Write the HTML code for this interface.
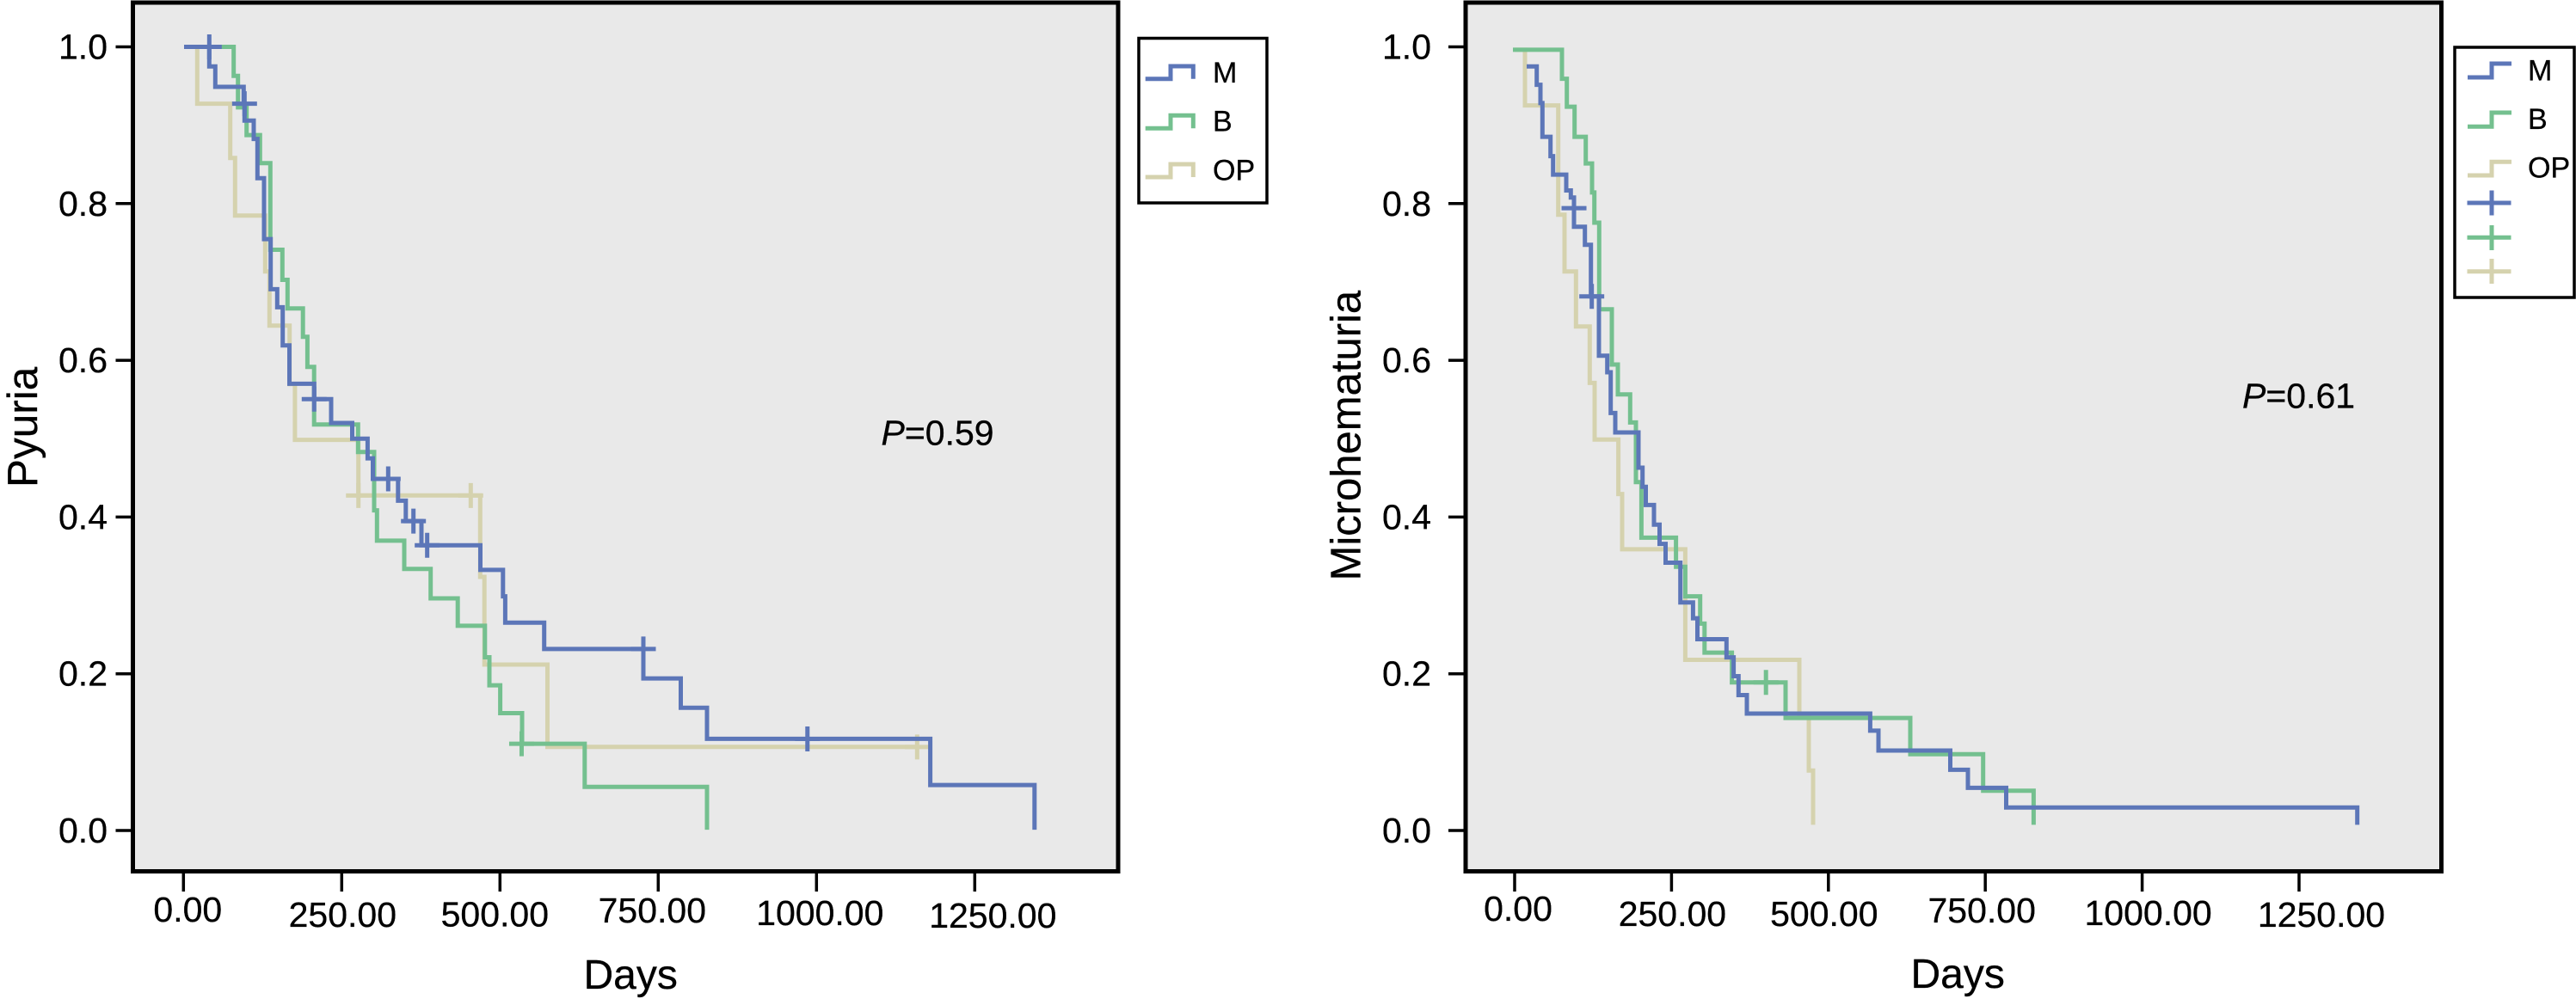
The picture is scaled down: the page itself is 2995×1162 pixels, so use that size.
<!DOCTYPE html>
<html lang="en">
<head>
<meta charset="utf-8">
<title>Kaplan-Meier curves: Pyuria and Microhematuria</title>
<style>
html,body{margin:0;padding:0;background:#fff;}
svg{display:block;}
text{font-family:"Liberation Sans",Arial,sans-serif;fill:#000;stroke:#000;stroke-width:0.3px;}
</style>
</head>
<body>
<svg id="figure" xmlns="http://www.w3.org/2000/svg" width="2995" height="1162" viewBox="0 0 2995 1162">
  <rect x="0" y="0" width="2995" height="1162" fill="#ffffff"/>

  <g id="pyuria-chart">
    <rect x="154.5" y="3" width="1145.5" height="1010.5" fill="#e9e9e9" stroke="#000" stroke-width="5"/>
    <text transform="translate(43 567) rotate(-90)" font-size="49.5">Pyuria</text>
    <text x="678.5" y="1150" font-size="48">Days</text>
    <text x="1024.5" y="517.5" font-size="41"><tspan font-style="italic">P</tspan>=0.59</text>
  </g>

  <g>
    <rect x="1324" y="44.5" width="149" height="191.5" fill="#ffffff" stroke="#000" stroke-width="3.5"/>
    <path d="M1331.7 91.7H1361V77H1387.3V91.7" fill="none" stroke="#5c76b8" stroke-width="5"/>
    <path d="M1331.7 149.3H1361V134.3H1387.3V149.3" fill="none" stroke="#74c08f" stroke-width="5"/>
    <path d="M1331.7 206H1361V191H1387.3V206" fill="none" stroke="#d5d2ae" stroke-width="5"/>
    <text x="1410" y="96" font-size="34">M</text>
    <text x="1410" y="152.7" font-size="34">B</text>
    <text x="1410" y="209.3" font-size="34">OP</text>
  </g>

  <g id="microhematuria-chart">
    <rect x="1704" y="3" width="1134.5" height="1010.5" fill="#e9e9e9" stroke="#000" stroke-width="5"/>
    <text transform="translate(1581.5 675.5) rotate(-90)" font-size="49">Microhematuria</text>
    <text x="2221.5" y="1149" font-size="48">Days</text>
    <text x="2607" y="474.3" font-size="41"><tspan font-style="italic">P</tspan>=0.61</text>
  </g>

  <g>
    <rect x="2854" y="55" width="139" height="291" fill="#ffffff" stroke="#000" stroke-width="3.5"/>
    <path d="M2869 90H2897V74H2920" fill="none" stroke="#5c76b8" stroke-width="5"/>
    <path d="M2869 147.3H2897V131H2920" fill="none" stroke="#74c08f" stroke-width="5"/>
    <path d="M2869 204H2897V188.3H2920" fill="none" stroke="#d5d2ae" stroke-width="5"/>
    <path d="M2868.5 236H2919.5M2897 221.5V250.5" fill="none" stroke="#5c76b8" stroke-width="5"/>
    <path d="M2868.5 276.3H2919.5M2897 262V291" fill="none" stroke="#74c08f" stroke-width="5"/>
    <path d="M2868.5 315.7H2919.5M2897 301V330" fill="none" stroke="#d5d2ae" stroke-width="5"/>
    <text x="2939" y="93.3" font-size="34">M</text>
    <text x="2939" y="150" font-size="34">B</text>
    <text x="2939" y="206.7" font-size="34">OP</text>
  </g>
</svg>

<script>
// ---- axis data ----
const xTickValues = [0, 250, 500, 750, 1000, 1250];
const xTickLabels = ["0.00", "250.00", "500.00", "750.00", "1000.00", "1250.00"];
const yTickValues = [0, 0.2, 0.4, 0.6, 0.8, 1.0];
const yTickLabels = ["0.0", "0.2", "0.4", "0.6", "0.8", "1.0"];

// ---- Pyuria chart: survival steps (days, proportion after the drop) ----
const pyuriaMDays = [1, 40.8, 50.3, 95.1, 96.5, 111, 116.8, 127.3, 137.8, 148.1, 156.8, 167.4, 206.5, 233.3, 266.6, 290.9, 299.2, 339, 351.2, 375.9, 469, 504.8, 508.3, 569.8, 726.5, 785.6, 827, 1179.8, 1344.4];
const pyuriaMSurv = [1.0, 0.975, 0.949, 0.9275, 0.906, 0.8825, 0.8325, 0.7547, 0.6907, 0.6677, 0.619, 0.57, 0.5504, 0.52, 0.5, 0.4749, 0.4487, 0.4208, 0.3948, 0.364, 0.3325, 0.2989, 0.2653, 0.2316, 0.1941, 0.1566, 0.1169, 0.058, 0.001];
const pyuriaMCensorDays = [40.8, 96.5, 206.5, 323.4, 363.3, 385, 726.5, 985.7];
const pyuriaMCensorSurv = [1.0, 0.9275, 0.5504, 0.4487, 0.3948, 0.364, 0.2316, 0.1169];

const pyuriaBDays = [3.7, 79.3, 86.1, 99.7, 120.9, 137.2, 156.3, 164.4, 188.7, 195.8, 206.4, 275.8, 301.2, 305.7, 348.8, 390.5, 433.3, 476.2, 483.3, 500.4, 534.9, 633.8, 827];
const pyuriaBSurv = [1.0, 0.963, 0.9228, 0.8874, 0.8516, 0.7411, 0.7027, 0.6662, 0.63, 0.5915, 0.518, 0.4831, 0.4086, 0.3698, 0.3337, 0.2962, 0.2612, 0.2211, 0.1853, 0.1498, 0.1107, 0.0557, 0.001];
const pyuriaBCensorDays = [534.2];
const pyuriaBCensorSurv = [0.1107];

const pyuriaOPDays = [3.7, 21.7, 73.9, 81.5, 129.1, 135.9, 167.7, 176.1, 276.4, 468.8, 475.4, 575, 1159];
const pyuriaOPSurv = [1.0, 0.9275, 0.8581, 0.7847, 0.7134, 0.6443, 0.5697, 0.4985, 0.4275, 0.3236, 0.2117, 0.1066, 0.1066];
const pyuriaOPCensorDays = [276.4, 453.8, 1159];
const pyuriaOPCensorSurv = [0.4275, 0.4275, 0.1066];

// ---- Microhematuria chart ----
const microMDays = [19.2, 35.2, 41.1, 44.3, 57.2, 61.3, 82.2, 89.5, 94.6, 112, 121.6, 134.3, 147.6, 153.1, 160.4, 197.4, 203.8, 209, 222, 230.9, 240.5, 264.1, 284.3, 291.3, 337.6, 349, 356.8, 370, 566.6, 579.8, 694.2, 722.3, 783.3, 1342.8];
const microMSurv = [0.9751, 0.9516, 0.9283, 0.8852, 0.8606, 0.837, 0.8168, 0.8077, 0.7704, 0.7474, 0.6816, 0.6059, 0.5848, 0.5328, 0.508, 0.463, 0.4385, 0.4154, 0.3904, 0.3658, 0.3417, 0.2909, 0.2709, 0.2441, 0.221, 0.1969, 0.1728, 0.1492, 0.1274, 0.102, 0.0774, 0.0544, 0.0294, 0.0072];
const microMCensorDays = [94.6, 122.9];
const microMCensorSurv = [0.7942, 0.6816];

const microBDays = [-2.7, 75.4, 83.2, 95.5, 113.4, 123.4, 127.1, 134.7, 154.9, 164.5, 184.1, 193.3, 202, 257.1, 271.9, 295.6, 302.6, 346.2, 431.7, 630.5, 746.6, 827];
const microBSurv = [0.9963, 0.9593, 0.9236, 0.8852, 0.8512, 0.8142, 0.7756, 0.6651, 0.5946, 0.5566, 0.5207, 0.4445, 0.3737, 0.3366, 0.2989, 0.264, 0.227, 0.189, 0.1436, 0.0974, 0.0507, 0.0072];
const microBCensorDays = [400.5];
const microBCensorSurv = [0.189];

const microOPDays = [0, 16.4, 69.5, 79.5, 97.7, 119.7, 127.5, 165.3, 171.3, 271.9, 453.7, 468.7, 475.6];
const microOPSurv = [0.9963, 0.9253, 0.7857, 0.7134, 0.6432, 0.5712, 0.499, 0.4294, 0.3589, 0.2178, 0.1443, 0.0765, 0.0072];
const microOPCensorDays = [];
const microOPCensorSurv = [];

// ---- drawing ----
const SVG_NS = "http://www.w3.org/2000/svg";
const Y_AT_ZERO = 966;
const Y_PER_UNIT = 911.5;
const PLOT_BOTTOM = 1013.5;

function yScale(v) {
  return Y_AT_ZERO - v * Y_PER_UNIT;
}

function stepPath(xScale, days, surv) {
  let d = "M" + xScale(days[0]).toFixed(1) + " " + yScale(surv[0]).toFixed(1);
  for (let i = 1; i < days.length; i++) {
    d += "H" + xScale(days[i]).toFixed(1) + "V" + yScale(surv[i]).toFixed(1);
  }
  return d;
}

function drawAxes(group, prefix, xScale, frameLeft, labelRight, nudgeX, baseY) {
  xTickValues.forEach(function (t, i) {
    const x = xScale(t);
    const tick = document.createElementNS(SVG_NS, "line");
    
    
    tick.setAttribute("x1", x);
    tick.setAttribute("x2", x);
    tick.setAttribute("y1", PLOT_BOTTOM);
    tick.setAttribute("y2", 1037);
    tick.setAttribute("stroke", "#000");
    tick.setAttribute("stroke-width", 3.5);
    group.appendChild(tick);

    const label = document.createElementNS(SVG_NS, "text");
    
    
    label.setAttribute("x", x + nudgeX[i]);
    label.setAttribute("y", baseY[i]);
    label.setAttribute("font-size", 41);
    label.setAttribute("text-anchor", "middle");
    label.textContent = xTickLabels[i];
    group.appendChild(label);
  });

  yTickValues.forEach(function (v, i) {
    const y = yScale(v);
    const tick = document.createElementNS(SVG_NS, "line");
    
    
    tick.setAttribute("x1", frameLeft - 20);
    tick.setAttribute("x2", frameLeft);
    tick.setAttribute("y1", y);
    tick.setAttribute("y2", y);
    tick.setAttribute("stroke", "#000");
    tick.setAttribute("stroke-width", 3.5);
    group.appendChild(tick);

    const label = document.createElementNS(SVG_NS, "text");
    
    
    label.setAttribute("x", labelRight);
    label.setAttribute("y", y + 14);
    label.setAttribute("font-size", 41);
    label.setAttribute("text-anchor", "end");
    label.textContent = yTickLabels[i];
    group.appendChild(label);
  });
}

function drawSeries(group, prefix, xScale, color, days, surv, cDays, cSurv) {
  const line = document.createElementNS(SVG_NS, "path");
  
  
  line.setAttribute("d", stepPath(xScale, days, surv));
  line.setAttribute("fill", "none");
  line.setAttribute("stroke", color);
  line.setAttribute("stroke-width", 5);
  line.setAttribute("stroke-linejoin", "miter");
  group.appendChild(line);

  cDays.forEach(function (d, i) {
    const x = xScale(d);
    const y = yScale(cSurv[i]);
    const mark = document.createElementNS(SVG_NS, "path");
    
    
    mark.setAttribute("d", "M" + (x - 14.5) + " " + y + "H" + (x + 14.5) + "M" + x + " " + (y - 14.5) + "V" + (y + 14.5));
    mark.setAttribute("fill", "none");
    mark.setAttribute("stroke", color);
    mark.setAttribute("stroke-width", 5);
    group.appendChild(mark);
  });
}

const COLOR_M = "#5c76b8";
const COLOR_B = "#74c08f";
const COLOR_OP = "#d5d2ae";

const pyuriaGroup = document.getElementById("pyuria-chart");
function pyuriaX(d) { return 213.3 + 0.736 * d; }
drawAxes(pyuriaGroup, "pyuria", pyuriaX, 154.5, 125, [5, 1, -6, -7, 4, 21], [1072, 1078, 1077.5, 1073, 1076, 1079]);
drawSeries(pyuriaGroup, "pyuria-op", pyuriaX, COLOR_OP, pyuriaOPDays, pyuriaOPSurv, pyuriaOPCensorDays, pyuriaOPCensorSurv);
drawSeries(pyuriaGroup, "pyuria-b", pyuriaX, COLOR_B, pyuriaBDays, pyuriaBSurv, pyuriaBCensorDays, pyuriaBCensorSurv);
drawSeries(pyuriaGroup, "pyuria-m", pyuriaX, COLOR_M, pyuriaMDays, pyuriaMSurv, pyuriaMCensorDays, pyuriaMCensorSurv);

const microGroup = document.getElementById("microhematuria-chart");
function microX(d) { return 1761 + 0.7296 * d; }
drawAxes(microGroup, "microhematuria", microX, 1704, 1664, [4, 1, -5, -4, 7, 26], [1071, 1077, 1077, 1073, 1076, 1078]);
drawSeries(microGroup, "microhematuria-op", microX, COLOR_OP, microOPDays, microOPSurv, microOPCensorDays, microOPCensorSurv);
drawSeries(microGroup, "microhematuria-b", microX, COLOR_B, microBDays, microBSurv, microBCensorDays, microBCensorSurv);
drawSeries(microGroup, "microhematuria-m", microX, COLOR_M, microMDays, microMSurv, microMCensorDays, microMCensorSurv);
</script>
</body>
</html>
